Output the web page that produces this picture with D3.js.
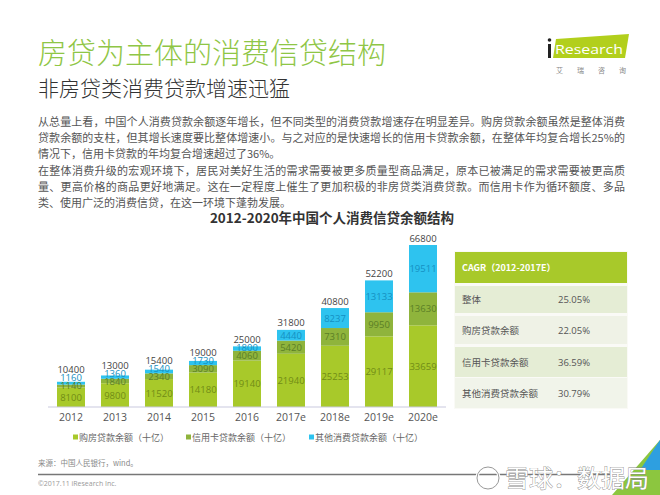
<!DOCTYPE html>
<html><head><meta charset="utf-8">
<script src="https://cdn.jsdelivr.net/npm/d3@7/dist/d3.min.js"></script>
<style>
html,body{margin:0;padding:0;background:#fff;}
svg{display:block;font-family:"Open Sans","Noto Sans CJK SC",sans-serif;}
</style></head>
<body>
<script>
const years = ["2012","2013","2014","2015","2016","2017e","2018e","2019e","2020e"];
const mortgage = [8100,9800,11520,14180,19140,21940,25253,29117,33659];
const creditCard = [1140,1840,2340,3090,4060,5420,7310,9950,13630];
const otherLoans = [1160,1360,1540,1730,1800,4440,8237,13133,19511];
const totals = [10400,13000,15400,19000,25000,31800,40800,52200,66800];
const seriesNames = ["购房贷款余额（十亿）","信用卡贷款余额（十亿）","其他消费贷款余额（十亿）"];
const cagrHeader = "CAGR（2012-2017E）";
const cagrLabels = ["整体","购房贷款余额","信用卡贷款余额","其他消费贷款余额"];
const cagrValues = ["25.05%","22.05%","36.59%","30.79%"];
const paragraph = [
 "从总量上看，中国个人消费贷款余额逐年增长，但不同类型的消费贷款增速存在明显差异。购房贷款余额虽然是整体消费",
 "贷款余额的支柱，但其增长速度要比整体增速小。与之对应的是快速增长的信用卡贷款余额，在整体年均复合增长25%的",
 "情况下，信用卡贷款的年均复合增速超过了36%。",
 "在整体消费升级的宏观环境下，居民对美好生活的需求需要被更多质量型商品满足，原本已被满足的需求需要被更高质",
 "量、更高价格的商品更好地满足。这在一定程度上催生了更加积极的非房贷类消费贷款。而信用卡作为循环额度、多品",
 "类、使用广泛的消费信贷，在这一环境下蓬勃发展。"
];

const W=660,H=495;
const svg=d3.select("body").append("svg").attr("width",W).attr("height",H);
const CJK='"Noto Sans CJK SC","Open Sans",sans-serif';

// Header
svg.append("text").attr("x",38).attr("y",64).attr("font-family",CJK).attr("font-size",29)
  .attr("font-weight",300).attr("fill","#8fc646").text("房贷为主体的消费信贷结构");
svg.append("text").attr("x",38).attr("y",96).attr("font-family",CJK).attr("font-size",21)
  .attr("font-weight",300).attr("fill","#333").text("非房贷类消费贷款增速迅猛");

// Logo
svg.append("polygon").attr("points","556,39 629,34 625,58 553,58").attr("fill","#b2cf1c");
svg.append("rect").attr("x",548).attr("y",44).attr("width",3).attr("height",14).attr("fill","#222");
svg.append("circle").attr("cx",549.5).attr("cy",40).attr("r",1.8).attr("fill","#222");
svg.append("text").attr("x",555).attr("y",54).attr("font-size",13).attr("fill","#fff")
  .attr("font-family",'"Liberation Sans Narrow","Open Sans",sans-serif').attr("textLength",68).attr("lengthAdjust","spacingAndGlyphs").text("Research");
svg.append("text").attr("x",556).attr("y",73).attr("font-family",CJK).attr("font-size",7).attr("fill","#888")
  .attr("textLength",70).attr("lengthAdjust","spacing").text("艾瑞咨询");

// Paragraph
const para=svg.append("g").attr("font-family",CJK).attr("font-size",11).attr("fill","#555");
paragraph.forEach((l,i)=>{
  const t=para.append("text").attr("x",38).attr("y",126+i*16.2).text(l);
  if(i!==2 && i!==5) t.attr("textLength",587).attr("lengthAdjust","spacing");
});

// Chart title
svg.append("text").attr("x",332).attr("y",223).attr("text-anchor","middle").attr("font-family",CJK)
  .attr("font-size",13.5).attr("font-weight",700).attr("fill","#333").text("2012-2020年中国个人消费信贷余额结构");

// Chart
const x=d3.scaleBand().domain(years).range([49,445]).paddingInner(16/44).paddingOuter(8/44);
const y=d3.scaleLinear().domain([0,d3.max(totals)]).range([407,245]);
const colors=["#a8c92a","#8fb43c","#2ec3ef"];
const textColors=["#718c16","#5b7f26","#1590c2"];
const seriesArr=[mortgage,creditCard,otherLoans];
const table=years.map((yr,i)=>({year:yr,m:mortgage[i],c:creditCard[i],o:otherLoans[i]}));
const stack=d3.stack().keys(["m","c","o"])(table);

const bars=svg.append("g");
stack.forEach((layer,k)=>{
  bars.selectAll(null).data(layer).enter().append("rect")
    .attr("x",d=>x(d.data.year)).attr("width",x.bandwidth())
    .attr("y",d=>y(d[1])).attr("height",d=>y(d[0])-y(d[1])).attr("fill",colors[k]);
});

// axis
const axis=svg.append("g").attr("transform","translate(0,407)")
  .call(d3.axisBottom(x).tickSize(0).tickPadding(7));
axis.select(".domain").attr("stroke","#c9c9de").attr("stroke-width",1).attr("d","M48,0H446");
axis.selectAll("text").attr("font-size",10.5).attr("fill","#555").attr("font-family",'"Open Sans",sans-serif');

// labels with simple collision handling
const lab=svg.append("g").attr("font-size",9.5).attr("text-anchor","middle").attr("dominant-baseline","central");
years.forEach((yr,i)=>{
  const cx=x(yr)+x.bandwidth()/2;
  let pos=[];
  stack.forEach((layer,k)=>{
    let p=(y(layer[i][0])+y(layer[i][1]))/2;
    if(k>0) p=Math.min(p,pos[k-1]-8);
    pos.push(p);
  });
  let tp=Math.min(y(totals[i])-7,pos[2]-8);
  stack.forEach((layer,k)=>{
    lab.append("text").attr("x",cx).attr("y",pos[k]).attr("fill",textColors[k]).text(seriesArr[k][i]);
  });
  lab.append("text").attr("x",cx).attr("y",tp).attr("fill","#444").text(totals[i]);
});

// legend
const legX=[73,186,309];
const leg=svg.append("g").attr("font-family",CJK).attr("font-size",9).attr("fill","#666");
seriesNames.forEach((n,k)=>{
  leg.append("rect").attr("x",legX[k]).attr("y",434.5).attr("width",5).attr("height",5).attr("fill",colors[k]);
  leg.append("text").attr("x",legX[k]+6).attr("y",440.5).text(n);
});

// CAGR table
const tg=svg.append("g");
tg.append("rect").attr("x",454).attr("y",251).attr("width",174).attr("height",158).attr("fill","#fafaf6");
tg.append("rect").attr("x",455).attr("y",252).attr("width",172).attr("height",31).attr("fill","#a8c92a");
tg.append("text").attr("x",462).attr("y",271).attr("font-family",CJK).attr("font-size",9).attr("font-weight",700)
  .attr("fill","#fff").text(cagrHeader);
const rowY=[286,316,347,378], rowH=[27,28,30,30];
const rowFill=["#e5edd5","#eff2e6","#e5edd5","#f1f4ea"];
cagrLabels.forEach((l,i)=>{
  tg.append("rect").attr("x",455).attr("y",rowY[i]).attr("width",172).attr("height",rowH[i]).attr("fill",rowFill[i]);
  tg.append("text").attr("x",462).attr("y",rowY[i]+rowH[i]/2+3.5).attr("font-family",CJK).attr("font-size",9.5).attr("fill","#555").text(l);
  tg.append("text").attr("x",558).attr("y",rowY[i]+rowH[i]/2+3.5).attr("font-size",9.5).attr("fill","#555").text(cagrValues[i]);
});

// footer
svg.append("text").attr("x",38).attr("y",466).attr("font-family",CJK).attr("font-size",7.5).attr("fill","#888").text("来源：中国人民银行，wind。");
svg.append("line").attr("x1",38).attr("x2",610).attr("y1",474.5).attr("y2",474.5).attr("stroke","#777").attr("stroke-width",1.5);
svg.append("text").attr("x",38).attr("y",486).attr("font-size",7).attr("fill","#999").text("©2017.11 iResearch Inc.");

// corner decoration & watermark
svg.append("polygon").attr("points","660,440 660,495 612,495").attr("fill","#8cc63f");
svg.append("polygon").attr("points","660,440 660,470 640,470").attr("fill","#2e9fe0");
svg.append("circle").attr("cx",488).attr("cy",478).attr("r",11).attr("fill","none").attr("stroke","#fff").attr("stroke-width",3);
svg.append("circle").attr("cx",488).attr("cy",478).attr("r",11).attr("fill","none").attr("stroke","#999").attr("stroke-width",1);
svg.append("text").attr("x",505).attr("y",487).attr("font-family",CJK).attr("font-size",24).attr("fill","#fff")
  .attr("stroke","#888").attr("stroke-width",0.8).attr("paint-order","stroke").text("雪球：数据局");
</script>
</body></html>
